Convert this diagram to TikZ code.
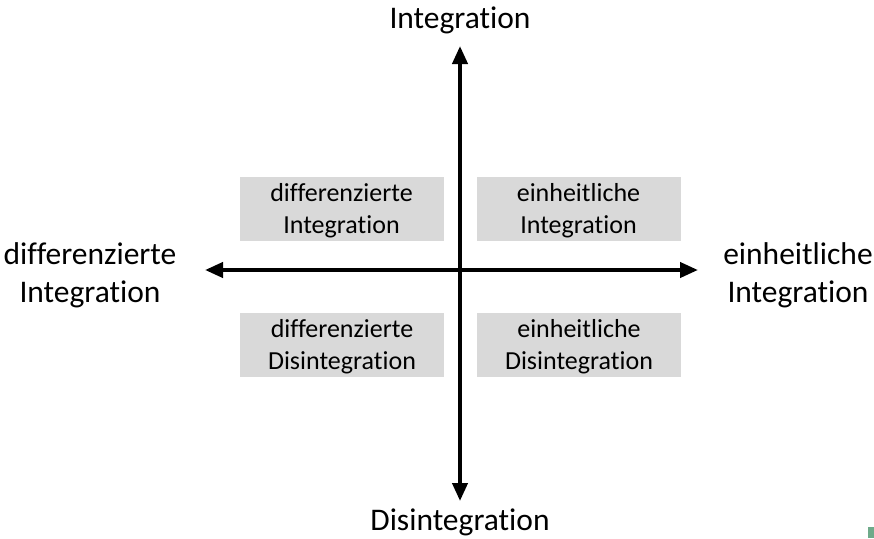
\documentclass[tikz,border=0pt]{standalone}
\usepackage{fontspec}
\setmainfont{Carlito}[Ligatures={NoCommon,NoRequired,NoContextual}]
\usetikzlibrary{arrows.meta}
\definecolor{boxgray}{HTML}{D9D9D9}
\definecolor{markgreen}{HTML}{6FAA8A}
\tikzset{
  qbox/.style={fill=boxgray, draw=none, minimum width=204pt, minimum height=64pt, inner sep=0pt},
  boxtext/.style={align=center, font=\fontsize{26}{32}\selectfont, inner sep=0pt},
  axislabel/.style={align=center, font=\fontsize{31.5}{38}\selectfont, inner sep=0pt},
  axis/.style={line width=4pt, {Triangle[length=18pt,width=15pt]}-{Triangle[length=18pt,width=15pt]}}
}
\begin{document}
\begin{tikzpicture}[x=1pt,y=-1pt]
\useasboundingbox (0,0) rectangle (874,538);
\clip (0,0) rectangle (874,538);
\coordinate (top) at (460,46);
\coordinate (bot) at (460,501);
\coordinate (lft) at (205,270);
\coordinate (rgt) at (698,270);
\node[qbox] (tl) at (341.5,208.5) {};
\node[qbox] (tr) at (578.5,208.5) {};
\node[qbox] (bl) at (342,345) {};
\node[qbox] (br) at (579,345) {};
\node[boxtext] (tlt) at ([yshift=-2pt]tl.center) {differenzierte\\Integration};
\node[boxtext] (trt) at ([yshift=-2pt]tr.center) {einheitliche\\Integration};
\node[boxtext] (blt) at ([yshift=-2pt]bl.center) {differenzierte\\Disintegration};
\node[boxtext] (brt) at ([yshift=-2pt]br.center) {einheitliche\\Disintegration};
\draw[axis] (top) -- (bot);
\draw[axis] (lft) -- (rgt);
\node[axislabel] (ltop) at (460,20) {Integration};
\node[axislabel] (lbot) at (460,522) {Disintegration};
\node[axislabel] (llft) at (90,275) {differenzierte\\Integration};
\node[axislabel] (lrgt) at (798,275) {einheitliche\\Integration};
\fill[markgreen] (868,527) rectangle (874,538);
\end{tikzpicture}
\end{document}
